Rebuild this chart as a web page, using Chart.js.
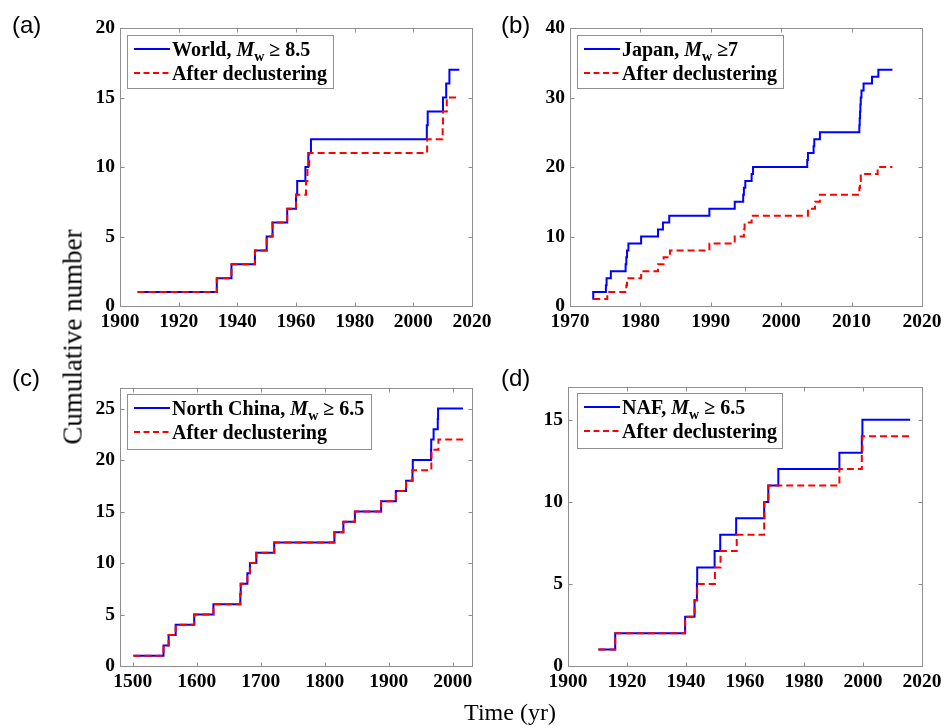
<!DOCTYPE html>
<html>
<head>
<meta charset="utf-8">
<script src="https://cdn.jsdelivr.net/npm/chart.js@4.4.1/dist/chart.umd.min.js"></script>
<style>
body { margin: 0; background: #fff; }
#wrap { position: relative; width: 946px; height: 728px; overflow: hidden; background: #fff; }
canvas { position: absolute; }
.tag { position: absolute; font-family: "Liberation Sans", Arial, sans-serif; font-size: 24px; line-height: 1; color: #000; }
.axtitle { position: absolute; font-family: "Liberation Serif", "Times New Roman", serif; color: #000; white-space: nowrap; line-height: 1; transform: translate(-50%, -50%); }
</style>
</head>
<body>
<div id="wrap">
  <canvas id="ca" width="500" height="340" style="left:0;top:0"></canvas>
  <canvas id="cb" width="456" height="340" style="left:490px;top:0"></canvas>
  <canvas id="cc" width="500" height="350" style="left:0;top:350px"></canvas>
  <canvas id="cd" width="456" height="350" style="left:490px;top:350px"></canvas>
  <div class="tag" style="left:12px;top:13px">(a)</div>
  <div class="tag" style="left:501px;top:13px">(b)</div>
  <div class="tag" style="left:12px;top:366px">(c)</div>
  <div class="tag" style="left:501px;top:366px">(d)</div>
  <div class="axtitle" style="left:73px;top:337px;font-size:27px;transform:translate(-50%,-50%) rotate(-90deg)">Cumulative number</div>
  <div class="axtitle" style="left:510px;top:712px;font-size:24px">Time (yr)</div>
</div>
<script>
// (a) World, Mw >= 8.5
const worldYears = [1906, 1933, 1938, 1946, 1950, 1952, 1957, 1960, 1960.4, 1963.2, 1964.2, 1965.1, 2004.6, 2004.9, 2010.1, 2011.2, 2012.3, 2015.7];
const worldCounts = [1, 2, 3, 4, 5, 6, 7, 8, 9, 10, 11, 12, 13, 14, 15, 16, 17, 17];
const worldDeclYears = [1906, 1933, 1938, 1946, 1950, 1952, 1957, 1960, 1963.4, 1963.9, 1964.5, 2004.7, 2010.0, 2010.1, 2011.4, 2015.7];
const worldDeclCounts = [1, 2, 3, 4, 5, 6, 7, 8, 9, 10, 11, 12, 13, 14, 15, 15];

// (b) Japan, Mw >= 7
const japanYears = [1973.2, 1973.3, 1975.1, 1975.2, 1975.8, 1977.9, 1978.0, 1978.1, 1978.3, 1980.1, 1982.5, 1983.2, 1984.1, 1989.8, 1993.4, 1994.6, 1994.7, 1994.9, 1995.8, 1996.0, 2003.7, 2003.8, 2004.6, 2004.7, 2005.5, 2011.1, 2011.15, 2011.2, 2011.25, 2011.3, 2011.4, 2011.7, 2012.9, 2013.8, 2015.8];
const japanCounts = [1, 2, 3, 4, 5, 6, 7, 8, 9, 10, 11, 12, 13, 14, 15, 16, 17, 18, 19, 20, 21, 22, 23, 24, 25, 26, 27, 28, 29, 30, 31, 32, 33, 34, 34];
const japanDeclYears = [1973.3, 1975.3, 1978.0, 1978.1, 1980.1, 1982.5, 1983.3, 1984.2, 1989.8, 1993.4, 1994.7, 1994.8, 1995.8, 2003.8, 2004.8, 2005.5, 2011.1, 2011.2, 2011.3, 2013.7, 2015.8];
const japanDeclCounts = [1, 2, 3, 4, 5, 6, 7, 8, 9, 10, 11, 12, 13, 14, 15, 16, 17, 18, 19, 20, 20];

// (c) North China, Mw >= 6.5
const chinaYears = [1501, 1548, 1556, 1567, 1596, 1626, 1668, 1668.6, 1679, 1683, 1693, 1721, 1815, 1829, 1847, 1888, 1911, 1927, 1937, 1937.5, 1966, 1966.3, 1970, 1976.5, 1977, 2016];
const chinaCounts = [1, 2, 3, 4, 5, 6, 7, 8, 9, 10, 11, 12, 13, 14, 15, 16, 17, 18, 19, 20, 21, 22, 23, 24, 25, 25];
const chinaDeclYears = [1501, 1548, 1556, 1567, 1596, 1626, 1668, 1668.6, 1679, 1683, 1693, 1721, 1815, 1829, 1847, 1888, 1911, 1927, 1937, 1966.5, 1966.8, 1977.5, 2016];
const chinaDeclCounts = [1, 2, 3, 4, 5, 6, 7, 8, 9, 10, 11, 12, 13, 14, 15, 16, 17, 18, 19, 20, 21, 22, 22];

// (d) NAF, Mw >= 6.5
const nafYears = [1910.3, 1916, 1939.7, 1942.9, 1943.7, 1943.8, 1949.7, 1951.6, 1957, 1966.5, 1967.9, 1971.3, 1992, 1999.6, 1999.8, 2016];
const nafCounts = [1, 2, 3, 4, 5, 6, 7, 8, 9, 10, 11, 12, 13, 14, 15, 15];
const nafDeclYears = [1910.3, 1916, 1939.7, 1942.9, 1943.8, 1949.8, 1951.7, 1957.2, 1966.5, 1966.6, 1967.9, 1992, 1999.6, 1999.8, 2016];
const nafDeclCounts = [1, 2, 3, 4, 5, 6, 7, 8, 9, 10, 11, 12, 13, 14, 14];

const SERIF = '"Liberation Serif", "Times New Roman", serif';

function pts(xs, ys) {
    return xs.map((x, i) => ({x: x, y: ys[i]}));
}

// box round the axes, with ticks pointing inward on all four sides
const framePlugin = {
    id: 'frame',
    beforeDatasetsDraw(chart) {
        const ctx = chart.ctx;
        const a = chart.chartArea;
        const xs = chart.scales.x, ys = chart.scales.y;
        const l = Math.round(a.left) + 0.5, r = Math.round(a.right) + 0.5;
        const t = Math.round(a.top) + 0.5, b = Math.round(a.bottom) + 0.5;
        ctx.save();
        ctx.strokeStyle = '#8f8f8f';
        ctx.lineWidth = 1;
        ctx.strokeRect(l, t, r - l, b - t);
        ctx.beginPath();
        xs.ticks.forEach(tk => {
            const px = Math.round(xs.getPixelForValue(tk.value)) + 0.5;
            ctx.moveTo(px, b); ctx.lineTo(px, b - 4);
            ctx.moveTo(px, t); ctx.lineTo(px, t + 4);
        });
        ys.ticks.forEach(tk => {
            const py = Math.round(ys.getPixelForValue(tk.value)) + 0.5;
            ctx.moveTo(l, py); ctx.lineTo(l + 4, py);
            ctx.moveTo(r, py); ctx.lineTo(r - 4, py);
        });
        ctx.stroke();
        ctx.restore();
    }
};

// MATLAB style legend with italic M and subscript w
const boxLegend = {
    id: 'boxLegend',
    afterDraw(chart, args, o) {
        const ctx = chart.ctx;
        ctx.save();
        ctx.fillStyle = '#fff';
        ctx.fillRect(o.x, o.y, o.w, o.h);
        ctx.strokeStyle = '#8f8f8f';
        ctx.lineWidth = 1;
        ctx.strokeRect(o.x + 0.5, o.y + 0.5, o.w, o.h);

        const lx0 = o.x + 7, lx1 = o.x + 43, tx = o.x + 45;
        // row 1
        ctx.strokeStyle = '#0000ff';
        ctx.lineWidth = 2;
        ctx.beginPath(); ctx.moveTo(lx0, o.y + 14); ctx.lineTo(lx1, o.y + 14); ctx.stroke();
        // row 2
        ctx.strokeStyle = '#ff0000';
        ctx.setLineDash([6, 3.5]);
        ctx.beginPath(); ctx.moveTo(lx0, o.y + 38); ctx.lineTo(lx1, o.y + 38); ctx.stroke();
        ctx.setLineDash([]);

        ctx.fillStyle = '#000';
        ctx.textBaseline = 'alphabetic';
        let x = tx;
        const base1 = o.y + 21;
        const parts = [
            {t: o.name + ', ', f: 'bold 20px ' + SERIF, dy: 0},
            {t: 'M', f: 'italic bold 20px ' + SERIF, dy: 0},
            {t: 'w', f: 'bold 14px ' + SERIF, dy: 5},
            {t: o.rest, f: 'bold 20px ' + SERIF, dy: 0}
        ];
        parts.forEach(p => {
            ctx.font = p.f;
            ctx.fillText(p.t, x, base1 + p.dy);
            x += ctx.measureText(p.t).width;
        });
        ctx.font = 'bold 20px ' + SERIF;
        ctx.fillText('After declustering', tx, o.y + 45);
        ctx.restore();
    }
};

function makeChart(id, cfg) {
    const tickFont = {family: SERIF, weight: 'bold', size: 19.5};
    return new Chart(document.getElementById(id), {
        type: 'line',
        data: {
            datasets: [
                {
                    data: pts(cfg.xs, cfg.ys),
                    borderColor: '#0000ff',
                    borderWidth: 2,
                    stepped: true,
                    pointRadius: 0,
                    fill: false,
                    order: 1
                },
                {
                    data: pts(cfg.xd, cfg.yd),
                    borderColor: '#ff0000',
                    borderWidth: 2,
                    borderDash: [7, 4],
                    stepped: true,
                    pointRadius: 0,
                    fill: false,
                    order: 0
                }
            ]
        },
        options: {
            responsive: false,
            animation: false,
            events: [],
            layout: {padding: {top: cfg.padTop, right: cfg.padRight, left: 0, bottom: 0}},
            scales: {
                x: {
                    type: 'linear',
                    min: cfg.xMin, max: cfg.xMax,
                    grid: {display: false, drawTicks: false},
                    border: {display: false},
                    afterFit: s => { s.height = cfg.xAxisH; },
                    ticks: {
                        stepSize: cfg.xStep,
                        includeBounds: false,
                        maxRotation: 0,
                        autoSkip: false,
                        padding: 4,
                        color: '#000',
                        font: tickFont,
                        callback: v => String(v)
                    }
                },
                y: {
                    min: 0, max: cfg.yMax,
                    grid: {display: false, drawTicks: false},
                    border: {display: false},
                    afterFit: s => { s.width = cfg.yAxisW; },
                    ticks: {
                        stepSize: cfg.yStep,
                        includeBounds: false,
                        padding: 5,
                        color: '#000',
                        font: tickFont,
                        callback: v => String(v)
                    }
                }
            },
            plugins: {
                legend: {display: false},
                tooltip: {enabled: false},
                boxLegend: cfg.legend
            }
        },
        plugins: [framePlugin, boxLegend]
    });
}

makeChart('ca', {
    xs: worldYears, ys: worldCounts, xd: worldDeclYears, yd: worldDeclCounts,
    xMin: 1900, xMax: 2020, xStep: 20, yMax: 20, yStep: 5,
    padTop: 28, padRight: 28, xAxisH: 34, yAxisW: 120,
    legend: {x: 127, y: 35, w: 206, h: 53, name: 'World', rest: ' \u2265 8.5'}
});
makeChart('cb', {
    xs: japanYears, ys: japanCounts, xd: japanDeclYears, yd: japanDeclCounts,
    xMin: 1970, xMax: 2020, xStep: 10, yMax: 40, yStep: 10,
    padTop: 28, padRight: 24, xAxisH: 34, yAxisW: 80,
    legend: {x: 87, y: 35, w: 206, h: 53, name: 'Japan', rest: ' \u22657'}
});
makeChart('cc', {
    xs: chinaYears, ys: chinaCounts, xd: chinaDeclYears, yd: chinaDeclCounts,
    xMin: 1480, xMax: 2030, xStep: 100, yMax: 27, yStep: 5,
    padTop: 38, padRight: 28, xAxisH: 34, yAxisW: 120,
    legend: {x: 127, y: 44, w: 244, h: 55, name: 'North China', rest: ' \u2265 6.5'}
});
makeChart('cd', {
    xs: nafYears, ys: nafCounts, xd: nafDeclYears, yd: nafDeclCounts,
    xMin: 1900, xMax: 2020, xStep: 20, yMax: 17, yStep: 5,
    padTop: 37, padRight: 24, xAxisH: 34, yAxisW: 78,
    legend: {x: 87, y: 43, w: 205, h: 55, name: 'NAF', rest: ' \u2265 6.5'}
});
</script>
</body>
</html>
